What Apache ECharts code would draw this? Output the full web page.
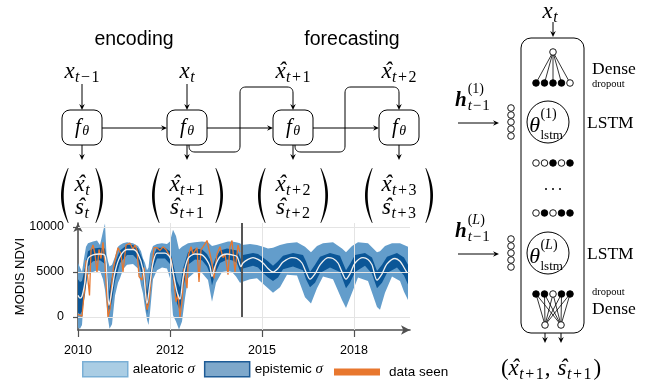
<!DOCTYPE html>
<html>
<head>
<meta charset="utf-8">
<script src="https://cdn.jsdelivr.net/npm/echarts@6/dist/echarts.min.js"></script>
<style>
  html, body { margin: 0; padding: 0; background: #fff; }
  #main { width: 654px; height: 381px; }
</style>
</head>
<body>
<div id="main"></div>
<script>
// x is measured in plot steps from the start of 2010 (one tick = 92 steps)
const xTicks = [0, 92, 184, 276]
const xTickLabels = ['2010', '2012', '2015', '2018']
const yTicks = [0, 5000, 10000]
const forecastStart = 164

// [x, lower, upper]
const aleatoricBand = [
  [0, -1200, 6000], [2, -1300, 5500], [4, -900, 5000], [6, 2500, 6500], [8, 3500, 7800],
  [10, 4700, 8200], [15, 5000, 8400], [19, 5200, 8500], [22, 5100, 8000], [25, 4200, 9500],
  [27, 3000, 10400], [28.5, 1500, 7000], [30, -200, 6200], [31.5, -1300, 5600], [34, -800, 5800],
  [37, 2400, 6700], [40, 3800, 7800], [42, 4300, 8000], [45, 5300, 8200], [49, 5800, 8300],
  [55, 5900, 8200], [60, 5400, 7900], [63, 3500, 7300], [65, 2600, 6500], [67, 1000, 6000],
  [69, -300, 5200], [70.5, -900, 5500], [72, 500, 7000], [75, 4200, 7900], [79, 5200, 8100],
  [84, 5500, 8200], [89, 5400, 8100], [92, 4300, 8400], [95, 200, 9700], [98, -500, 9000],
  [101, -1400, 7500], [104, -500, 7800], [107, 2100, 8000], [110, 4300, 8200], [117, 5000, 8300],
  [124, 4900, 8400], [130, 4100, 8300], [134, 1700, 7900], [138, 3800, 8000], [144, 5000, 8200],
  [150, 5100, 8400], [154, 5000, 8400], [158, 4500, 8300], [162, 3800, 8200], [164, 3900, 8000],
  [172, 4200, 8100], [179, 4300, 8000], [185, 3700, 7800], [190, 3200, 7600], [195, 2700, 7700],
  [202, 3300, 8000], [209, 4700, 8200], [219, 4600, 8300], [227, 2200, 7800], [233, 1500, 7200],
  [239, 3200, 7900], [245, 4500, 8200], [255, 4200, 8300], [264, 1900, 7600], [268, 1000, 7200],
  [274, 2700, 7900], [280, 4400, 8300], [290, 4000, 8200], [299, 1100, 7200], [302, 800, 7300],
  [307, 2700, 7900], [314, 4500, 8200], [322, 4000, 8200], [326, 2800, 8000], [330, 1900, 7800]
]

const epistemicBand = [
  [0, 500, 4200], [2, 300, 3900], [4, 600, 4000], [7, 2500, 5500], [10, 5600, 7300],
  [15, 6200, 7600], [22, 6300, 7700], [27, 5900, 7600], [29, 3000, 6000], [31, 300, 2800],
  [34, 1800, 4500], [37, 4000, 6000], [42, 6000, 7400], [49, 6900, 8000], [55, 6900, 8000],
  [60, 6300, 7600], [65, 4300, 6300], [69, 300, 2800], [72, 2800, 5000], [75, 5300, 6700],
  [79, 6500, 7700], [87, 6500, 7700], [92, 5900, 7300], [95, 4000, 6000], [99, 1500, 4000],
  [102, 700, 3300], [105, 3200, 5400], [110, 5800, 7200], [117, 6400, 7600], [124, 6300, 7500],
  [129, 5600, 7000], [132, 4800, 6400], [134, 3500, 5500], [137, 4800, 6400], [142, 6000, 7400],
  [149, 6400, 7600], [154, 6300, 7500], [159, 6000, 7400], [163, 4800, 6400], [165, 5400, 6900],
  [175, 5700, 7100], [180, 5500, 7000], [185, 4900, 6600], [190, 4400, 6200], [195, 4000, 5700],
  [200, 4400, 6200], [205, 5300, 6800], [215, 5600, 7100], [225, 5200, 6900], [228, 4200, 6200],
  [232, 3300, 5000], [237, 3800, 5800], [242, 4900, 6700], [252, 5500, 7100], [262, 5000, 6800],
  [268, 3200, 5200], [272, 3800, 5900], [277, 5000, 6900], [287, 5700, 7100], [294, 4800, 6600],
  [299, 3200, 5100], [304, 3800, 5800], [309, 4900, 6700], [319, 5500, 7100], [326, 4600, 6600],
  [330, 3600, 5800]
]

const meanLine = [
  [0, 2400], [2, 2100], [4, 2300], [7, 3900], [10, 6500], [15, 6900], [22, 7000], [27, 6800],
  [29, 4500], [31, 1300], [34, 3000], [37, 5000], [42, 6700], [49, 7500], [55, 7500], [60, 7000],
  [65, 5300], [69, 1500], [72, 3800], [75, 6000], [79, 7100], [87, 7100], [92, 6600], [95, 5000],
  [99, 2800], [102, 2000], [105, 4300], [110, 6500], [117, 7000], [124, 6900], [129, 6300],
  [132, 5600], [134, 4500], [137, 5600], [142, 6700], [149, 7000], [154, 6900], [159, 6700],
  [163, 5600], [165, 6000], [170, 6400], [175, 6600], [180, 6400], [185, 6000], [190, 5400],
  [195, 5000], [200, 5400], [205, 6100], [214, 6600], [219, 6500], [224, 6000], [228, 5000],
  [232, 4200], [237, 4800], [242, 5800], [250, 6600], [255, 6500], [260, 6000], [264, 5000],
  [268, 4200], [272, 4800], [277, 6000], [285, 6600], [290, 6400], [294, 5800], [299, 4100],
  [304, 4800], [309, 5900], [317, 6500], [322, 6200], [326, 5500], [329, 4900]
]

const dataSeen = [
  [0, 300], [2, 300], [4, 100], [5, 0], [6.5, 3000], [8, 6300], [11.5, 2400], [13, 7400],
  [15, 8000], [17, 7000], [19, 4900], [21, 7500], [23, 6500], [25, 8300], [27, 5800], [28.5, 3000],
  [30, 0], [32, 900], [34, 4000], [35.5, 5500], [38, 6800], [40, 7700], [43, 7000], [45, 5000],
  [48, 8000], [52, 8200], [55, 7500], [57, 8000], [59, 7400], [61, 4500], [64, 4100], [66, 5500],
  [69, 800], [71, 1700], [74, 5500], [76, 7700], [79, 7700], [82, 7400], [85, 7800], [88, 7500],
  [90, 7300], [93, 6500], [95, 5000], [98, 1700], [100, 2500], [102, 0], [104, 1700], [106, 5400],
  [109, 3200], [110.5, 6900], [113, 7800], [115, 7000], [119, 7700], [121, 3900], [123, 7500],
  [125, 7800], [129, 8500], [132, 7000], [134, 6000], [136, 4300], [139, 7000], [142, 7800],
  [145, 6600], [147, 7000], [150, 4700], [152, 7800], [154, 8500], [157, 5000], [160, 8000], [162, 7200]
]

const chart = echarts.init(document.getElementById('main'))

// ---- diagram helpers ----
const K = '#000'
const els = []
const mctx = document.createElement('canvas').getContext('2d')
const tw = (font, s) => { mctx.font = font; return mctx.measureText(s).width }
const MI = (s) => `italic ${s}px "Liberation Serif"`
const MR = (s) => `${s}px "Liberation Serif"`
const MB = (s) => `bold italic ${s}px "Liberation Serif"`
const SANS = (s) => `${s}px "Liberation Sans"`

function txt(x, y, text, font, align = 'left') {
  els.push({
    type: 'text', x, y, silent: true,
    style: { text, font, fill: K, align, verticalAlign: 'middle', textAlign: align, textVerticalAlign: 'middle' },
  })
}

// parts: [text, font, dy, mode, dx]; mode 'o' = accent over previous, 'mark' / 'back' = stacked sup/sub
function math(x, y, parts, align = 'center') {
  let cx = 0, mark = 0, maxX = 0, last = null
  const out = []
  for (const [t, f, dy = 0, m, dx = 0] of parts) {
    const w = tw(f, t)
    if (m === 'o') {
      out.push([t, f, last.px + (last.w - w) / 2 + 1.5 + dx, dy])
      continue
    }
    if (m === 'mark') mark = cx
    if (m === 'back') { maxX = Math.max(maxX, cx); cx = mark }
    const px = cx + dx
    cx = px + w
    last = { px, w }
    out.push([t, f, px, dy])
  }
  const total = Math.max(maxX, cx)
  const x0 = align === 'left' ? x : x - total / 2
  out.forEach(([t, f, px, dy]) => txt(x0 + px, y + dy, t, f))
}

function line(x1, y1, x2, y2, w = 1) {
  els.push({ type: 'line', silent: true, shape: { x1, y1, x2, y2 }, style: { stroke: K, lineWidth: w } })
}
function head(x, y, ux, uy) {
  const L = 6, W = 2.8
  const bx = x - ux * L, by = y - uy * L
  els.push({
    type: 'polygon', silent: true,
    shape: { points: [[x, y], [bx - uy * W, by + ux * W], [x - ux * (L - 2), y - uy * (L - 2)], [bx + uy * W, by - ux * W]] },
    style: { fill: K },
  })
}
function arrow(x1, y1, x2, y2) {
  const d = Math.hypot(x2 - x1, y2 - y1)
  const ux = (x2 - x1) / d, uy = (y2 - y1) / d
  line(x1, y1, x2 - ux * 3, y2 - uy * 3)
  head(x2, y2, ux, uy)
}
function roundedArrow(pts, r) {
  const out = [pts[0]]
  for (let i = 1; i < pts.length - 1; i++) {
    const [p0, p1, p2] = [pts[i - 1], pts[i], pts[i + 1]]
    const d1 = Math.hypot(p1[0] - p0[0], p1[1] - p0[1])
    const d2 = Math.hypot(p2[0] - p1[0], p2[1] - p1[1])
    const a = [p1[0] - (p1[0] - p0[0]) / d1 * r, p1[1] - (p1[1] - p0[1]) / d1 * r]
    const b = [p1[0] + (p2[0] - p1[0]) / d2 * r, p1[1] + (p2[1] - p1[1]) / d2 * r]
    for (let k = 0; k <= 8; k++) {
      const t = k / 8
      out.push([
        (1 - t) * (1 - t) * a[0] + 2 * (1 - t) * t * p1[0] + t * t * b[0],
        (1 - t) * (1 - t) * a[1] + 2 * (1 - t) * t * p1[1] + t * t * b[1],
      ])
    }
  }
  const end = pts[pts.length - 1]
  out.push([end[0], end[1] - 3])
  els.push({ type: 'polyline', silent: true, shape: { points: out }, style: { stroke: K, lineWidth: 1, fill: null } })
  head(end[0], end[1], 0, 1)
}
function node(cx, cy, filled, r = 3.3) {
  els.push({ type: 'circle', silent: true, shape: { cx, cy, r }, style: { fill: filled ? K : '#fff', stroke: K, lineWidth: 0.9 } })
}
// big delimiter drawn as a filled crescent
function paren(xe, y1, y2, dir) {
  const xEnd = xe + dir * 7
  const cOut = xe - dir * 7, cIn = xe - dir * 2.2
  const ym = (y1 + y2) / 2
  const q = (a, c, b, t) => (1 - t) * (1 - t) * a + 2 * (1 - t) * t * c + t * t * b
  const pts = []
  for (let k = 0; k <= 24; k++) {
    const t = k / 24
    pts.push([q(xEnd, cOut, xEnd, t), q(y1, ym, y2, t)])
  }
  for (let k = 24; k >= 0; k--) {
    const t = k / 24
    pts.push([q(xEnd + dir * 0.6, cIn, xEnd + dir * 0.6, t), q(y1 + 0.3, ym, y2 - 0.3, t)])
  }
  els.push({ type: 'polygon', silent: true, shape: { points: pts }, style: { fill: K } })
}
const BIG = 23, SUB = 16
const hatX = (sub) => [['x', MI(BIG)], ['ˆ', MI(BIG), 0, 'o'], ...sub]
const hatS = (sub) => [['s', MI(BIG)], ['ˆ', MI(BIG), 0, 'o'], ...sub]
const subT = (op, n) => [
  ['t', MI(SUB), 6, null, 0.5],
  ...(op ? [[op, MR(SUB), 6, null, 1.5], [n, MR(SUB), 6, null, 1.5]] : []),
]

// ---- left: encoding / forecasting unroll ----
txt(134, 40, 'encoding', SANS(19.5), 'center')
txt(352, 40, 'forecasting', SANS(19.5), 'center')

const cols = [82, 187, 293, 399]
math(cols[0], 72, [['x', MI(BIG)], ...subT('−', '1')])
math(cols[1], 72, [['x', MI(BIG)], ...subT()])
math(cols[2], 72, hatX(subT('+', '1')))
math(cols[3], 72, hatX(subT('+', '2')))
arrow(cols[0], 84, cols[0], 110)
arrow(cols[1], 84, cols[1], 110)

cols.forEach((c, i) => {
  els.push({ type: 'rect', silent: true, shape: { x: c - 20, y: 110, width: 40, height: 35, r: 8 }, style: { fill: '#fff', stroke: K, lineWidth: 1 } })
  math(c, 127, [['f', MI(21)], ['θ', MI(14), 4, null, 1.5]])
  arrow(c, 145, c, 160)
  if (i < 3) arrow(c + 20, 128, cols[i + 1] - 20, 128)
})
roundedArrow([[189, 145], [189, 152], [240, 152], [240, 87], [cols[2], 87], [cols[2], 110]], 6)
roundedArrow([[295, 145], [295, 152], [345, 152], [345, 87], [cols[3], 87], [cols[3], 110]], 6)

const vecSubs = [null, '1', '2', '3']
const parenEdges = [[61, 103], [152, 223], [258, 328], [365, 433]]
cols.forEach((c, i) => {
  const n = vecSubs[i]
  math(c, 185, hatX(n ? subT('+', n) : subT()))
  math(c, 208, hatS(n ? subT('+', n) : subT()))
  paren(parenEdges[i][0], 168, 223, 1)
  paren(parenEdges[i][1], 168, 223, -1)
})

// ---- right: stacked LSTM cell ----
els.push({ type: 'rect', silent: true, shape: { x: 521, y: 38, width: 63, height: 295, r: 10 }, style: { fill: null, stroke: K, lineWidth: 1 } })
math(550, 12, [['x', MI(BIG)], ...subT()])
arrow(553, 22, 553, 37)

const rowX = [536, 544.5, 553, 561.5, 570]
rowX.forEach((x) => line(553, 52, x, 83, 0.8))
node(553, 52, false)
;[1, 1, 1, 1, 0].forEach((f, i) => node(rowX[i], 83, f))
txt(592, 69, 'Dense', MR(17.5))
txt(592, 84, 'dropout', MR(10.5))

function lstm(cy, layer, hy) {
  const sup = [['(', MR(14), -12, 'mark', 0.5], [layer, layer === 'L' ? MI(14) : MR(14), -12], [')', MR(14), -12]]
  els.push({ type: 'circle', silent: true, shape: { cx: 548, cy, r: 21 }, style: { fill: null, stroke: K, lineWidth: 1 } })
  math(546, cy + 4, [['θ', MI(22)], ...sup, ['lstm', MR(13), 10, 'back', 0.5]])
  txt(587, cy + 1, 'LSTM', MR(17.5))
  ;[-14, -7, 0, 7, 14].forEach((d) => node(511, cy + d, false))
  arrow(458, cy + 1, 499, cy + 1)
  math(455, hy, [['h', MB(21)], ...sup.map((p) => [p[0], p[1], p[2], p[3], p[3] ? 1 : 0]),
    ['t', MI(15), 5, 'back', 1], ['−', MR(15), 5, null, 1], ['1', MR(15), 5, null, 1]], 'left')
}
lstm(122, '1', 101)
;[0, 0, 1, 0, 1].forEach((f, i) => node(rowX[i], 163, f))
;[546, 553, 560].forEach((x) => els.push({ type: 'circle', silent: true, shape: { cx: x, cy: 189, r: 1 }, style: { fill: K } }))
;[0, 1, 0, 1, 1].forEach((f, i) => node(rowX[i], 213, f))
lstm(253, 'L', 232)

const outX = [545, 561]
rowX.forEach((x) => outX.forEach((o) => line(x, 294, o, 325, 0.8)))
;[1, 1, 0, 1, 1].forEach((f, i) => node(rowX[i], 294, f))
outX.forEach((o) => { node(o, 325, false); arrow(o, 333, o, 343) })
txt(592, 292, 'dropout', MR(10.5))
txt(592, 309, 'Dense', MR(17.5))
math(551, 369, [
  ['(', MR(BIG)], ...hatX(subT('+', '1')), [',', MR(BIG), 0, null, 1],
  ['s', MI(BIG), 0, null, 7], ['ˆ', MI(BIG), 0, 'o'], ...subT('+', '1'), [')', MR(BIG), 0, null, 2],
])

// ---- time series chart ----
function bandSeries(name, band, color, z) {
  return {
    name, type: 'custom', z, silent: true,
    itemStyle: { color },
    data: [[band[0][0], band[0][1]]],
    renderItem: (params, api) => {
      const upper = band.map((b) => api.coord([b[0], b[2]]))
      const lower = band.slice().reverse().map((b) => api.coord([b[0], b[1]]))
      return { type: 'polygon', shape: { points: upper.concat(lower) }, style: { fill: color } }
    },
  }
}

const axisColor = '#505050'
const labelFont = { color: '#000', fontFamily: 'Liberation Sans', fontSize: 12.5 }

chart.setOption({
  animation: false,
  graphic: { elements: els },
  grid: { left: 78, right: 244, top: 223, bottom: 51, containLabel: false, outerBoundsMode: 'none' },
  legend: [
    {
      left: 82, top: 361, padding: 0, itemWidth: 45, itemHeight: 15, itemGap: 9, icon: 'rect',
      selectedMode: false,
      data: [
        { name: 'aleatoric σ', itemStyle: { color: '#aacde4', borderColor: '#7aafd5', borderWidth: 1.5 } },
        { name: 'epistemic σ', itemStyle: { color: '#7ea8cb', borderColor: '#1d5b96', borderWidth: 1.5 } },
      ],
      formatter: (n) => n.replace('σ', '{s|σ}'),
      textStyle: { ...labelFont, fontSize: 13.5, rich: { s: { fontFamily: 'Liberation Serif', fontStyle: 'italic', fontSize: 15 } } },
    },
    {
      left: 334, top: 365, padding: 0, itemWidth: 46, itemHeight: 7, icon: 'rect', selectedMode: false,
      data: [{ name: 'data seen', itemStyle: { color: '#e8772e' } }],
      textStyle: { ...labelFont, fontSize: 13.5, padding: [0, 0, 0, 4] },
    },
  ],
  xAxis: {
    type: 'value', min: 0, max: 332,
    axisLine: { onZero: false, symbol: ['none', 'arrow'], symbolSize: [7, 9], lineStyle: { color: axisColor, width: 1.6 } },
    axisTick: { customValues: xTicks, length: 7, lineStyle: { color: axisColor, width: 1.2 } },
    axisLabel: { customValues: xTicks, margin: 14, ...labelFont, formatter: (v) => xTickLabels[xTicks.indexOf(v)] },
    splitLine: { show: false },
  },
  yAxis: {
    type: 'value', min: -1444, max: 10444,
    name: 'MODIS NDVI', nameLocation: 'middle', nameGap: 51, nameMoveOverlap: false,
    nameTextStyle: { color: '#000', fontFamily: 'Liberation Sans', fontSize: 13 },
    axisLine: { onZero: false, symbol: ['none', 'arrow'], symbolSize: [7, 9], lineStyle: { color: axisColor, width: 1.6 } },
    axisTick: { customValues: yTicks, length: 5, lineStyle: { color: axisColor, width: 1.2 } },
    axisLabel: { customValues: yTicks, margin: 14, ...labelFont, formatter: (v) => String(v) },
    splitLine: { show: false },
  },
  series: [
    {
      name: 'grid', type: 'line', z: 1, silent: true, data: [],
      markLine: {
        silent: true, symbol: 'none', label: { show: false },
        lineStyle: { color: '#e4e4e4', width: 1, type: 'solid' },
        data: [...yTicks.map((v) => ({ yAxis: v })), ...xTicks.slice(1).map((v) => ({ xAxis: v }))],
      },
    },
    bandSeries('aleatoric σ', aleatoricBand, '#639dcb', 2),
    bandSeries('epistemic σ', epistemicBand, '#0b5697', 3),
    {
      name: 'data seen', type: 'line', z: 4, data: dataSeen, showSymbol: false, silent: true,
      lineStyle: { color: '#e8772e', width: 1.3 }, itemStyle: { color: '#e8772e' },
    },
    {
      name: 'mean', type: 'line', z: 5, data: meanLine, showSymbol: false, silent: true, smooth: 0.3,
      lineStyle: { color: '#f0f0f0', width: 1.3 },
      markLine: {
        silent: true, symbol: 'none', label: { show: false },
        lineStyle: { color: '#555', width: 2, type: 'solid' },
        data: [[{ coord: [forecastStart, 0] }, { coord: [forecastStart, 10444] }]],
      },
    },
  ],
})
</script>
</body>
</html>
